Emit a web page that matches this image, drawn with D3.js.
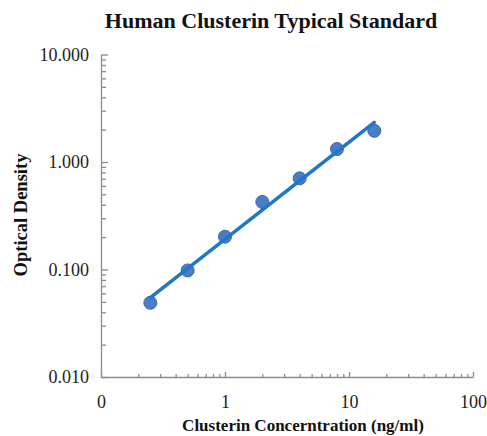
<!DOCTYPE html>
<html>
<head>
<meta charset="utf-8">
<script src="https://cdn.jsdelivr.net/npm/d3@7"></script>
<style>
  html, body { margin: 0; padding: 0; background: #fff; }
  svg { display: block; }
</style>
</head>
<body>
<svg id="chart" width="487" height="436"></svg>
<script>
// ---- data ----
const concentrations = [0.25, 0.5, 1, 2, 4, 8, 16];            // ng/ml
const opticalDensity = [0.049, 0.098, 0.202, 0.425, 0.705, 1.32, 1.95];
const xTickValues = [0.1, 1, 10, 100];
const xTickLabels = ["0", "1", "10", "100"];
const yTickValues = [0.01, 0.1, 1, 10];
const yTickLabels = ["0.010", "0.100", "1.000", "10.000"];
const titleText = "Human Clusterin Typical Standard";
const xTitle = "Clusterin Concerntration (ng/ml)";
const yTitle = "Optical Density";

// ---- layout ----
const svg = d3.select("#chart");
const x = d3.scaleLog().domain([0.1, 100]).range([101, 473]);
const y = d3.scaleLog().domain([0.01, 10]).range([377, 54.5]);
const axisColor = "#8c8c8c";
const serif = "'Liberation Serif', 'Times New Roman', serif";

// minor ticks
const minorVals = (lo, hi) => {
  const out = [];
  for (let d = lo; d < hi; d *= 10) for (let k = 2; k <= 9; k++) out.push(d * k);
  return out;
};

function styleAxis(g) {
  g.selectAll("path, line").attr("stroke", axisColor).attr("stroke-width", 1.3);
  g.selectAll("text").attr("font-family", serif).attr("fill", "#222");
}

// X axis
const gxMinor = svg.append("g").attr("transform", `translate(0,${y(0.01)})`)
  .call(d3.axisBottom(x).tickValues(minorVals(0.1, 100)).tickSize(-3).tickFormat("").tickSizeOuter(0));
gxMinor.select(".domain").remove();
styleAxis(gxMinor);
const gx = svg.append("g").attr("transform", `translate(0,${y(0.01)})`)
  .call(d3.axisBottom(x).tickValues(xTickValues).tickSize(-5).tickSizeOuter(0).tickPadding(18)
    .tickFormat((d, i) => xTickLabels[i]));
styleAxis(gx);
gx.selectAll("text").attr("font-size", 18);

// Y axis
const gyMinor = svg.append("g").attr("transform", `translate(${x(0.1)},0)`)
  .call(d3.axisLeft(y).tickValues(minorVals(0.01, 10)).tickSize(-5).tickFormat("").tickSizeOuter(0));
gyMinor.select(".domain").remove();
styleAxis(gyMinor);
const gy = svg.append("g").attr("transform", `translate(${x(0.1)},0)`)
  .call(d3.axisLeft(y).tickValues(yTickValues).tickSize(-7).tickSizeOuter(0).tickPadding(12)
    .tickFormat((d, i) => yTickLabels[i]));
styleAxis(gy);
gy.selectAll("text").attr("font-size", 18);

// power-law trendline (least squares in log-log space)
const lx = concentrations.map(Math.log10), ly = opticalDensity.map(Math.log10);
const mx = d3.mean(lx), my = d3.mean(ly);
const slope = d3.sum(lx.map((v, i) => (v - mx) * (ly[i] - my))) / d3.sum(lx.map(v => (v - mx) ** 2));
const icpt = my - slope * mx;
const xMin = d3.min(concentrations), xMax = d3.max(concentrations);
const trend = [xMin, xMax].map(c => [c, Math.pow(10, icpt + slope * Math.log10(c))]);

// points
svg.append("g").selectAll("circle")
  .data(concentrations.map((c, i) => [c, opticalDensity[i]]))
  .join("circle")
  .attr("cx", d => x(d[0])).attr("cy", d => y(d[1])).attr("r", 6.5)
  .attr("fill", "#4a7dc4").attr("stroke", "#3a6aae").attr("stroke-width", 1);

svg.append("path")
  .datum(trend)
  .attr("d", d3.line().x(d => x(d[0])).y(d => y(d[1])))
  .attr("fill", "none").attr("stroke", "#1f77c6").attr("stroke-width", 3.5)
  .attr("stroke-linecap", "round");

// titles
svg.append("text").attr("x", 271).attr("y", 28).attr("text-anchor", "middle")
  .attr("font-family", serif).attr("font-weight", "bold").attr("font-size", 22)
  .attr("fill", "#111").text(titleText);
svg.append("text").attr("x", 303).attr("y", 431).attr("text-anchor", "middle")
  .attr("font-family", serif).attr("font-weight", "bold").attr("font-size", 17)
  .attr("fill", "#111").text(xTitle);
svg.append("text").attr("transform", "translate(27,215) rotate(-90)").attr("text-anchor", "middle")
  .attr("font-family", serif).attr("font-weight", "bold").attr("font-size", 18.5)
  .attr("fill", "#111").text(yTitle);
</script>
</body>
</html>
